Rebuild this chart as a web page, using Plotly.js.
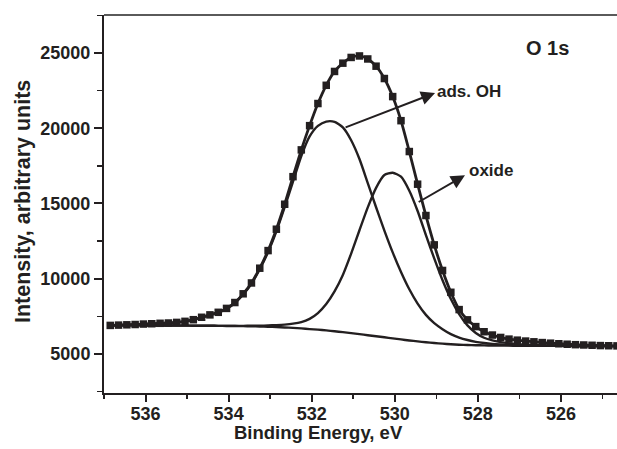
<!DOCTYPE html>
<html><head><meta charset="utf-8">
<script src="https://cdn.plot.ly/plotly-3.0.1.min.js"></script>
<style>html,body{margin:0;padding:0;background:#fff}#chart{width:617px;height:449px}</style>
</head><body><div id="chart"></div>
<script>
const bindingEnergy = [536.85,536.65,536.45,536.25,536.05,535.85,535.65,535.45,535.25,535.05,
  534.85,534.65,534.45,534.25,534.05,533.85,533.65,533.45,533.25,533.05,
  532.85,532.65,532.45,532.25,532.05,531.85,531.65,531.45,531.25,531.05,
  530.85,530.65,530.45,530.25,530.05,529.85,529.65,529.45,529.25,529.05,
  528.85,528.65,528.45,528.25,528.05,527.85,527.65,527.45,527.25,527.05,
  526.85,526.65,526.45,526.25,526.05,525.85,525.65,525.45,525.25,525.05,
  524.85,524.65];
const measured = [6900,6920,6940,6960,6990,7010,7040,7060,7100,7170,
  7280,7440,7600,7770,8030,8420,9000,9720,10700,11870,
  13290,14950,16780,18560,20170,21640,22850,23770,24320,24700,
  24800,24600,24120,23300,22100,20500,18450,16280,14200,12250,
  10550,9100,7950,7270,6820,6480,6260,6100,5990,5920,
  5860,5810,5760,5720,5680,5650,5620,5600,5580,5560,
  5550,5540];
const background = [6900,6900,6900,6900,6900,6895,6895,6890,6890,6885,
  6880,6880,6875,6870,6865,6860,6850,6840,6825,6810,
  6790,6765,6735,6700,6655,6620,6570,6510,6450,6390,
  6320,6250,6180,6110,6040,5970,5900,5840,5780,5730,
  5690,5650,5620,5600,5585,5575,5565,5560,5555,5550,
  5550,5545,5545,5540,5540,5535,5535,5530,5530,5530,
  5525,5525];
const adsOH = [6900,6920,6940,6960,6990,7010,7040,7060,7100,7165,
  7270,7430,7590,7750,8000,8390,8960,9670,10630,11770,
  13150,14750,16450,18150,19450,20150,20440,20420,20050,19200,
  17950,16350,14750,13200,11750,10450,9300,8350,7600,7050,
  6650,6320,6090,5930,5810,5730,5670,5630,5600,5580,
  5570,5560,5555,5550,5545,5540,5535,5535,5530,5530,
  5525,5525];
const oxide = [6900,6900,6900,6900,6900,6895,6895,6890,6890,6885,
  6880,6880,6875,6870,6870,6870,6870,6875,6880,6895,
  6920,6955,7015,7120,7335,7720,8320,9160,10250,11670,
  13220,14740,16040,16890,17040,16780,15850,14500,12900,11350,
  9900,8650,7650,6900,6400,6080,5900,5790,5710,5650,
  5610,5585,5575,5560,5550,5540,5535,5530,5530,5530,
  5525,5525];
const peakLabels = ['ads. OH', 'oxide'];
const panelLabel = 'O 1s';
const xTitle = 'Binding Energy, eV';
const yTitle = 'Intensity, arbitrary units';

const ink = '#231f20';
const fam = 'Liberation Sans, Arial, Helvetica, sans-serif';
const compLine = {color: ink, width: 2.4, shape: 'spline', smoothing: 0.6};

const traces = [
  {x: bindingEnergy, y: background, mode: 'lines', line: compLine, hoverinfo: 'skip'},
  {x: bindingEnergy, y: adsOH, mode: 'lines', line: compLine, hoverinfo: 'skip'},
  {x: bindingEnergy, y: oxide, mode: 'lines', line: compLine, hoverinfo: 'skip'},
  {x: bindingEnergy, y: measured, mode: 'lines+markers',
   line: {color: ink, width: 2.8, shape: 'spline', smoothing: 0.6},
   marker: {symbol: 'square', size: 7.5, color: ink}, hoverinfo: 'skip'}
];

const tickFont = {family: fam, size: 18, color: ink, weight: 'bold'};
const layout = {
  width: 617, height: 449,
  margin: {l: 104, r: 0, t: 15, b: 56},
  paper_bgcolor: '#fff', plot_bgcolor: '#fff',
  showlegend: false,
  xaxis: {
    range: [537.0, 524.65], showgrid: false, zeroline: false,
    showline: true, linecolor: ink, linewidth: 2,
    ticks: 'outside', ticklen: 7, tickwidth: 2, tickcolor: ink,
    tick0: 536, dtick: 2, tickfont: tickFont, ticklabelstandoff: -4,
    minor: {dtick: 1, ticks: 'outside', ticklen: 4, tickwidth: 1.5, tickcolor: ink, showgrid: false}
  },
  yaxis: {
    range: [2410, 27520], showgrid: false, zeroline: false,
    showline: true, linecolor: ink, linewidth: 2,
    ticks: 'outside', ticklen: 8, tickwidth: 2, tickcolor: ink,
    tick0: 0, dtick: 5000, tickformat: 'd', tickfont: tickFont,
    minor: {dtick: 2500, ticks: 'outside', ticklen: 5, tickwidth: 1.5, tickcolor: ink, showgrid: false}
  },
  shapes: [
    {type: 'line', xref: 'paper', yref: 'paper', x0: 0, x1: 1, y0: 1, y1: 1,
     line: {color: '#5a5a5a', width: 2}}
  ],
  annotations: [
    {xref: 'paper', yref: 'paper', x: (318-104)/513, y: -(432-393)/378, xanchor: 'center', yanchor: 'middle',
     text: xTitle, showarrow: false, font: {family: fam, size: 18.5, color: ink, weight: 'bold'}},
    {xref: 'paper', yref: 'paper', x: -(104-23)/513, y: (393-202)/378, xanchor: 'center', yanchor: 'middle',
     text: yTitle, textangle: -90, showarrow: false, font: {family: fam, size: 21.5, color: ink, weight: 'bold'}},
    {xref: 'paper', yref: 'paper', x: (547.5-104)/513, y: (393-48.3)/378, xanchor: 'center', yanchor: 'middle',
     text: panelLabel, showarrow: false, font: {family: fam, size: 20, color: ink, weight: 'bold'}},
    {x: 529.03, y: 22340, ax: 531.22, ay: 20017, axref: 'x', ayref: 'y', text: '',
     showarrow: true, arrowhead: 2, arrowsize: 1.4, arrowwidth: 2, arrowcolor: ink},
    {x: 529.03, y: 22450, xanchor: 'left', yanchor: 'middle', text: peakLabels[0], showarrow: false,
     font: {family: fam, size: 17, color: ink, weight: 'bold'}},
    {x: 528.31, y: 16878, ax: 529.46, ay: 15040, axref: 'x', ayref: 'y', text: '',
     showarrow: true, arrowhead: 2, arrowsize: 1.4, arrowwidth: 2, arrowcolor: ink},
    {x: 528.25, y: 17200, xanchor: 'left', yanchor: 'middle', text: peakLabels[1], showarrow: false,
     font: {family: fam, size: 17, color: ink, weight: 'bold'}}
  ]
};
Plotly.newPlot('chart', traces, layout, {staticPlot: true, displayModeBar: false});
</script>
</body></html>
